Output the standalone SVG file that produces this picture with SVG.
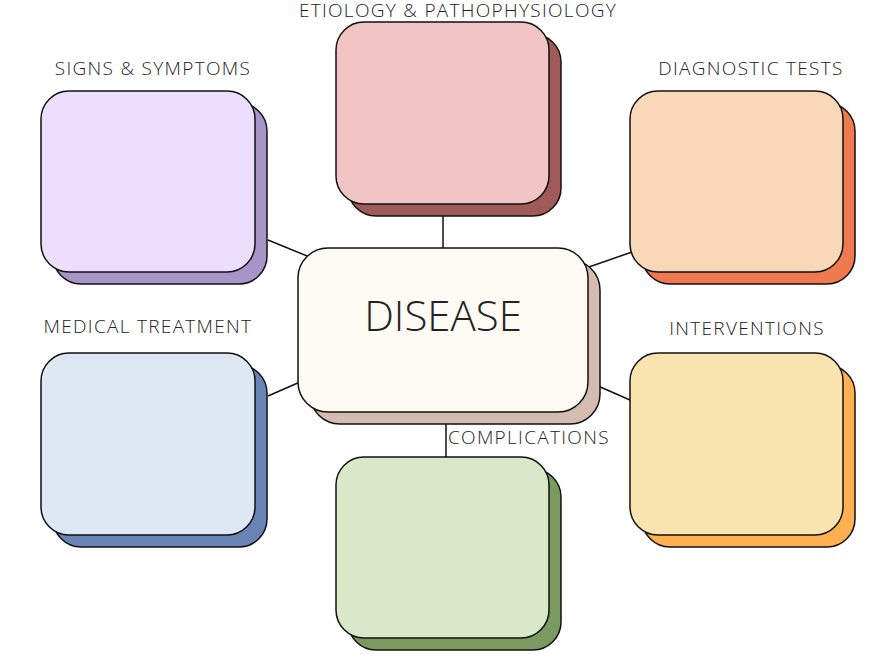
<svg xmlns="http://www.w3.org/2000/svg" width="896" height="672" viewBox="0 0 896 672">
<style>
.f{stroke:#111;stroke-width:1.5}
.l{font-family:"Open Sans","Liberation Sans",sans-serif;font-size:19px;letter-spacing:1.3px;fill:#222;font-weight:300}
</style>
<rect width="896" height="672" fill="#fff"/>
<g id="connectors" stroke="#111" stroke-width="1.5">
<line x1="443" y1="204" x2="443" y2="248"/>
<line x1="268" y1="240" x2="312" y2="258"/>
<line x1="586" y1="268" x2="632" y2="252"/>
<line x1="268" y1="396" x2="300" y2="382"/>
<line x1="598" y1="386" x2="630" y2="400"/>
<line x1="446" y1="424" x2="446" y2="457"/>
</g>
<g id="etiology">
<rect class="f" x="348" y="34" width="213" height="182" rx="28" fill="#a05a5a"/>
<rect class="f" x="336" y="22" width="213" height="182" rx="28" fill="#f2c4c4"/>
<text class="l" x="458" y="17" text-anchor="middle">ETIOLOGY &amp; PATHOPHYSIOLOGY</text>
</g>
<g id="signs">
<rect class="f" x="53" y="103" width="214" height="181" rx="28" fill="#a895c8"/>
<rect class="f" x="41" y="91" width="214" height="181" rx="28" fill="#ebdffd"/>
<text class="l" x="153" y="75" text-anchor="middle">SIGNS &amp; SYMPTOMS</text>
</g>
<g id="diagnostic">
<rect class="f" x="642" y="103" width="213" height="181" rx="28" fill="#ef7a50"/>
<rect class="f" x="630" y="91" width="213" height="181" rx="28" fill="#f8d8b8"/>
<text class="l" x="751" y="75" text-anchor="middle">DIAGNOSTIC TESTS</text>
</g>
<g id="medical">
<rect class="f" x="53" y="365" width="214" height="182" rx="28" fill="#6a85b5"/>
<rect class="f" x="41" y="353" width="214" height="182" rx="28" fill="#dde8f2"/>
<text class="l" x="148" y="333" text-anchor="middle">MEDICAL TREATMENT</text>
</g>
<g id="interventions">
<rect class="f" x="642" y="365" width="213" height="182" rx="28" fill="#ffb050"/>
<rect class="f" x="630" y="353" width="213" height="182" rx="28" fill="#f9e4b0"/>
<text class="l" x="747" y="335" text-anchor="middle">INTERVENTIONS</text>
</g>
<g id="complications">
<rect class="f" x="348" y="469" width="213" height="181" rx="28" fill="#7a9a60"/>
<rect class="f" x="336" y="457" width="213" height="181" rx="28" fill="#d8e8c8"/>
<text class="l" x="448" y="444">COMPLICATIONS</text>
</g>
<g id="disease">
<rect class="f" x="310" y="260" width="290" height="164" rx="30" fill="#d4bcb0"/>
<rect class="f" x="298" y="248" width="290" height="164" rx="30" fill="#fdfbf3"/>
<text x="443" y="331" text-anchor="middle" font-family="Open Sans,Liberation Sans,sans-serif" font-weight="300" font-size="42" fill="#222">DISEASE</text>
</g>
</svg>
